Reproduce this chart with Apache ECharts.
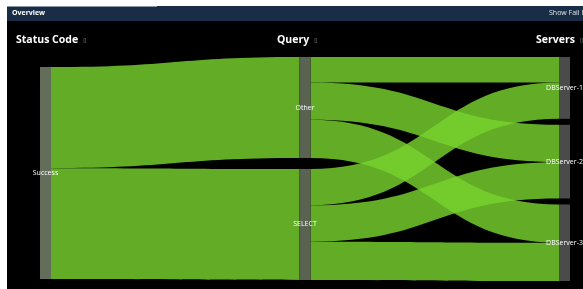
<!DOCTYPE html>
<html>
<head>
<meta charset="utf-8">
<script src="https://cdn.jsdelivr.net/npm/echarts@6/dist/echarts.min.js"></script>
<style>
html,body{margin:0;padding:0;background:#fff;}
#main{width:583px;height:289px;}
</style>
</head>
<body>
<div id="main"></div>
<script>
// columns of the flow
var statusCodes = ['Success'];
var queries = ['Other', 'SELECT'];
var servers = ['DBServer-1', 'DBServer-2', 'DBServer-3'];

// Success -> query type
var statusToQuery = [103, 113];
// query type -> server (rows: Other, SELECT; cols: DBServer-1..3)
var otherToServer = [26, 38, 39];
var selectToServer = [37, 37, 39];

var nodeColors = {
  Success: '#636e5a',
  Other: '#5a6352', SELECT: '#5a6352',
  'DBServer-1': '#4b4b4b', 'DBServer-2': '#4b4b4b', 'DBServer-3': '#4b4b4b'
};
// vertical placement (share of layout height) for nodes that are not stacked from the top
var nodeLocalY = {Success: 0.045, SELECT: 0.5};

var nodes = [];
statusCodes.concat(queries, servers).forEach(function (n) {
  var node = {name: n, itemStyle: {color: nodeColors[n]}};
  if (nodeLocalY[n] != null) node.localY = nodeLocalY[n];
  nodes.push(node);
});

var links = [];
queries.forEach(function (q, i) {
  links.push({source: statusCodes[0], target: q, value: statusToQuery[i]});
});
servers.forEach(function (s, j) {
  links.push({source: 'Other', target: s, value: otherToServer[j]});
  links.push({source: 'SELECT', target: s, value: selectToServer[j]});
});

var myChart = echarts.init(document.getElementById('main'));

function head(txt) {
  return '{t|' + txt + '} {i|▯}';
}
var headRich = {
  t: {color: '#fff', fontSize: 10.5, lineHeight: 14, fontWeight: 'bold', fontFamily: 'Open Sans'},
  i: {color: '#9a9a9a', fontSize: 6, lineHeight: 14, fontFamily: 'DejaVu Sans'}
};

myChart.setOption({
  backgroundColor: '#fff',
  animation: false,
  graphic: [
    {type: 'rect', shape: {x: 7, y: 21, width: 576, height: 268}, style: {fill: '#000'}, z: -10},
    {type: 'rect', shape: {x: 7, y: 6, width: 576, height: 15}, style: {fill: '#1a2d47'}, z: -10},
    {type: 'rect', shape: {x: 7, y: 6, width: 150, height: 1}, style: {fill: '#8a97a8'}, z: -9},
    {type: 'text', left: 12, top: 9, style: {text: 'Overview', fill: '#fff', font: 'bold 7px "Open Sans"'}},
    {type: 'text', left: 549, top: 9, style: {text: 'Show Fail Requests', fill: '#dfe6ee', font: '7px "Open Sans"'}}
  ],
  title: [
    {text: head('Status Code'), left: 16, top: 31, padding: 0, textStyle: {rich: headRich}},
    {text: head('Query'), left: 277, top: 31, padding: 0, textStyle: {rich: headRich}},
    {text: head('Servers'), left: 536, top: 31, padding: 0, textStyle: {rich: headRich}}
  ],
  series: [{
    type: 'sankey',
    left: 40,
    right: 13,
    top: 57,
    bottom: 8,
    nodeWidth: 11,
    nodeGap: 6,
    layoutIterations: 0,
    draggable: false,
    emphasis: {disabled: true},
    data: nodes,
    links: links,
    label: {
      position: 'inside',
      color: '#fff',
      fontSize: 7,
      fontFamily: 'Open Sans'
    },
    itemStyle: {borderWidth: 0},
    lineStyle: {color: '#78d22e', opacity: 0.82, curveness: 0.5}
  }]
});
</script>
</body>
</html>
